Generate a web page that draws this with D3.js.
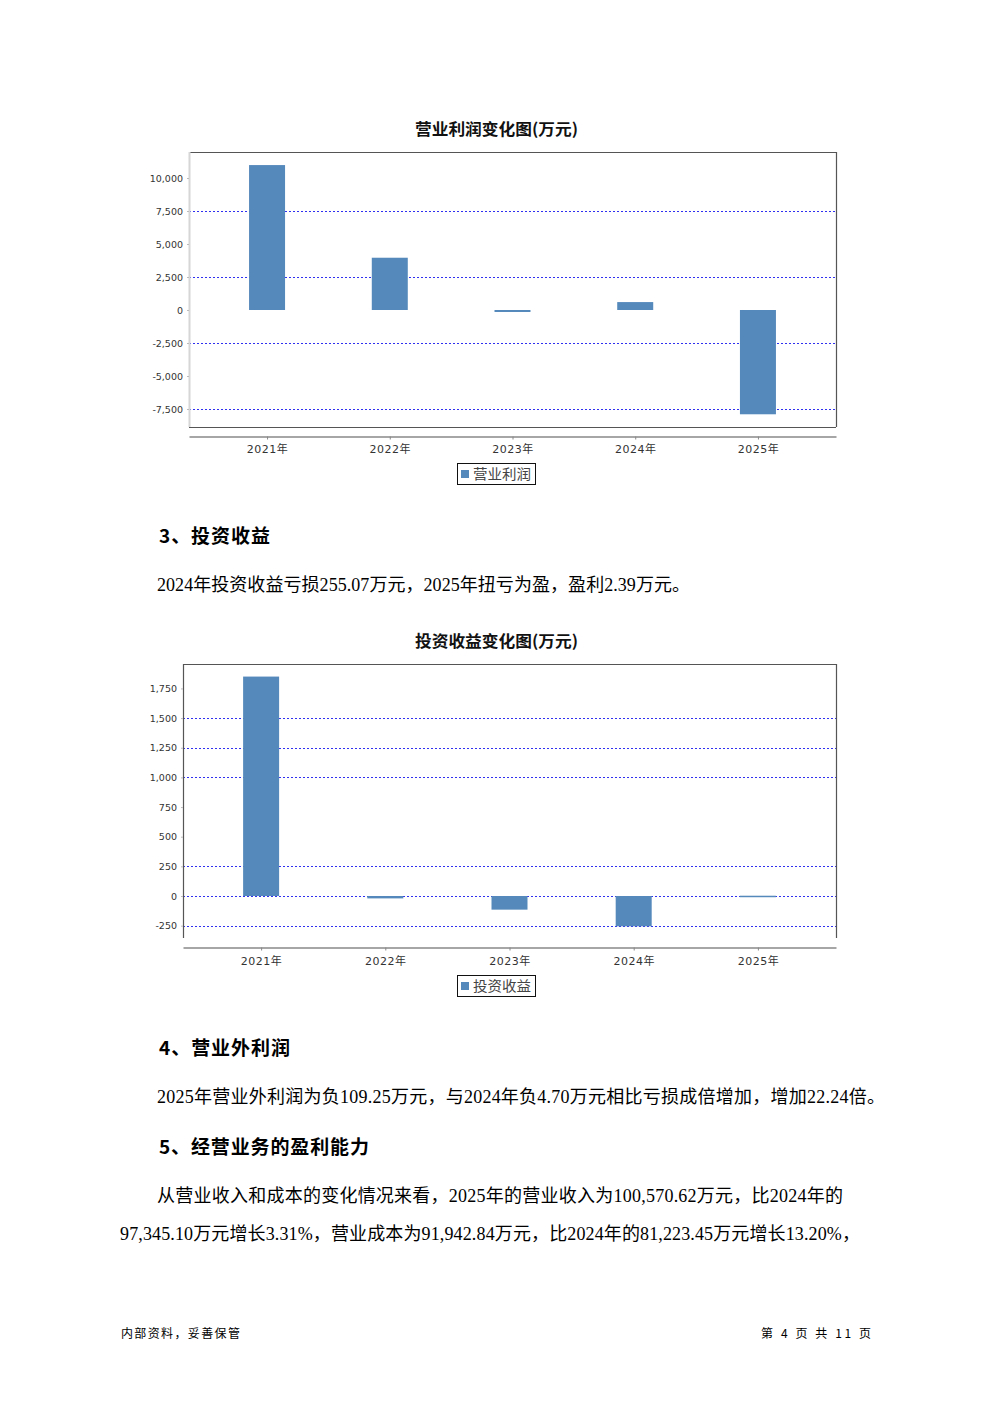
<!DOCTYPE html>
<html><head><meta charset="utf-8">
<script src="https://cdn.jsdelivr.net/npm/d3@7/dist/d3.min.js"></script>
<style>
html,body{margin:0;padding:0;background:#fff;}
svg{display:block;}
</style></head>
<body>
<svg id="page" width="992" height="1403"></svg>
<script>
// ---------- data ----------
const years = ["2021年","2022年","2023年","2024年","2025年"];
const profitValues = [10980, 3960, -150, 600, -7900];
const investValues = [1850, -20, -115, -255.07, 2.39];
const profitTicks = [-7500,-5000,-2500,0,2500,5000,7500,10000];
const profitGrid = [-7500,-2500,2500,7500];
const investTicks = [-250,0,250,500,750,1000,1250,1500,1750];
const investGrid = [-250,0,250,1000,1250,1500];
const profitTitle = "营业利润变化图(万元)";
const investTitle = "投资收益变化图(万元)";
const profitLegend = "营业利润";
const investLegend = "投资收益";

const svg = d3.select("#page");
const BAR = "#5589bb";
const SERIF = "'Liberation Serif','Noto Sans CJK SC',serif";
const SANS = "'DejaVu Sans','Noto Sans CJK SC',sans-serif";
const CJK = "'Noto Sans CJK SC',sans-serif";
const fmt = v => d3.format(",")(v).replace("−","-");

function chart(cfg){
  const g = svg.append("g");
  const y = d3.scaleLinear().domain(cfg.domain).range([cfg.bottom, cfg.top]);
  const x = d3.scalePoint().domain(years).range([cfg.left, cfg.right]).padding(cfg.pad);
  // title
  g.append("text").attr("x",496.5).attr("y",cfg.titleY).attr("text-anchor","middle")
    .attr("font-family",CJK).attr("font-weight","bold")
    .attr("font-size",16).attr("fill","#111")
    .attr("textLength",163).attr("lengthAdjust","spacingAndGlyphs").text(cfg.title);
  // grid
  g.append("g").selectAll("line").data(cfg.grid).join("line")
    .attr("x1",cfg.left).attr("x2",cfg.right)
    .attr("y1",d=>Math.round(y(d))+0.5).attr("y2",d=>Math.round(y(d))+0.5)
    .attr("stroke","#3030f0").attr("stroke-width",1).attr("stroke-dasharray","2,2");
  // bars
  const bw = 36;
  g.append("g").selectAll("rect").data(cfg.values).join("rect")
    .attr("x",(d,i)=>x(years[i])-bw/2).attr("width",bw)
    .attr("y",d=>y(Math.max(0,d))).attr("height",d=>Math.max(1.5,Math.abs(y(d)-y(0))))
    .attr("fill",BAR);
  // frame
  const f = g.append("g").attr("fill","none").attr("stroke","#555").attr("stroke-width",1.2);
  f.append("line").attr("x1",cfg.left).attr("x2",cfg.right).attr("y1",cfg.top+0.5).attr("y2",cfg.top+0.5);
  f.append("line").attr("x1",cfg.right+0.5).attr("x2",cfg.right+0.5).attr("y1",cfg.top).attr("y2",cfg.bottom);
  if(cfg.bottomBorder) f.append("line").attr("x1",cfg.left).attr("x2",cfg.right).attr("y1",cfg.bottom+0.5).attr("y2",cfg.bottom+0.5);
  g.append("line").attr("x1",cfg.left+0.5).attr("x2",cfg.left+0.5).attr("y1",cfg.top).attr("y2",cfg.bottom)
    .attr("stroke",cfg.leftColor).attr("stroke-width",cfg.leftWidth);
  // y axis
  const ya = g.append("g").attr("transform",`translate(${cfg.left},0)`)
    .call(d3.axisLeft(y).tickValues(cfg.ticks).tickFormat(fmt).tickSize(2).tickPadding(cfg.tickPad));
  ya.select(".domain").remove();
  ya.selectAll(".tick line").attr("stroke","#bbb");
  ya.selectAll("text").attr("font-family",SANS).attr("font-size",9.5).attr("fill","#333");
  // x axis
  const xa = g.append("g").attr("transform",`translate(0,${cfg.axisY})`)
    .call(d3.axisBottom(x).tickSize(3).tickPadding(cfg.xPad).tickSizeOuter(0));
  xa.select(".domain").attr("stroke","#888").attr("stroke-width",1.5);
  xa.selectAll(".tick line").attr("stroke","#888");
  xa.selectAll("text").attr("font-family",SANS).attr("font-size",11).attr("fill","#333").attr("letter-spacing","0.5px");
  // legend
  const lg = g.append("g").attr("transform",`translate(457,${cfg.legendY})`);
  lg.append("rect").attr("x",0.5).attr("y",0.5).attr("width",78).attr("height",21).attr("fill","#fff").attr("stroke","#111");
  lg.append("rect").attr("x",4).attr("y",7).attr("width",8).attr("height",8).attr("fill",BAR);
  lg.append("text").attr("x",16).attr("y",15.5).attr("font-family",CJK)
    .attr("font-size",14).attr("fill","#444").attr("textLength",58).attr("lengthAdjust","spacingAndGlyphs").text(cfg.legend);
}

chart({title:profitTitle,titleY:135,values:profitValues,domain:[-8864,11970],top:152,bottom:427,
  left:189,right:836,pad:0.636,grid:profitGrid,ticks:profitTicks,tickPad:4,axisY:436.5,xPad:6,legendY:463,
  legend:profitLegend,bottomBorder:true,leftColor:"#d6d6d6",leftWidth:2});
chart({title:investTitle,titleY:647,values:investValues,domain:[-354,1956],top:664,bottom:938,
  left:183,right:836,pad:0.629,grid:investGrid,ticks:investTicks,tickPad:4,axisY:947.5,xPad:7,legendY:975,
  legend:investLegend,bottomBorder:false,leftColor:"#555",leftWidth:1.2});

// ---------- text ----------
function txt(x,y,s,len,opt={}){
  const t = svg.append("text").attr("x",x).attr("y",y).attr("font-family",opt.family||SERIF)
    .attr("font-size",opt.size||18).attr("font-weight",opt.bold?"bold":"normal")
    .attr("text-anchor",opt.anchor||"start").attr("fill","#000").text(s);
  if(len) t.attr("textLength",len).attr("lengthAdjust","spacing");
}
txt(159,543,"3、投资收益",111,{size:19,bold:true,family:CJK});
txt(157,591,"2024年投资收益亏损255.07万元，2025年扭亏为盈，盈利2.39万元。",533);
txt(159,1055,"4、营业外利润",131,{size:19,bold:true,family:CJK});
txt(157,1103,"2025年营业外利润为负109.25万元，与2024年负4.70万元相比亏损成倍增加，增加22.24倍。",728);
txt(159,1154,"5、经营业务的盈利能力",210,{size:19,bold:true,family:CJK});
txt(157,1202,"从营业收入和成本的变化情况来看，2025年的营业收入为100,570.62万元，比2024年的",686);
txt(120,1240,"97,345.10万元增长3.31%，营业成本为91,942.84万元，比2024年的81,223.45万元增长13.20%，",740);
txt(121,1337.5,"内部资料，妥善保管",119,{size:12,family:CJK});
txt(761,1337.5,"第 4 页  共 11 页",110,{size:12,family:CJK});
</script>
</body></html>
